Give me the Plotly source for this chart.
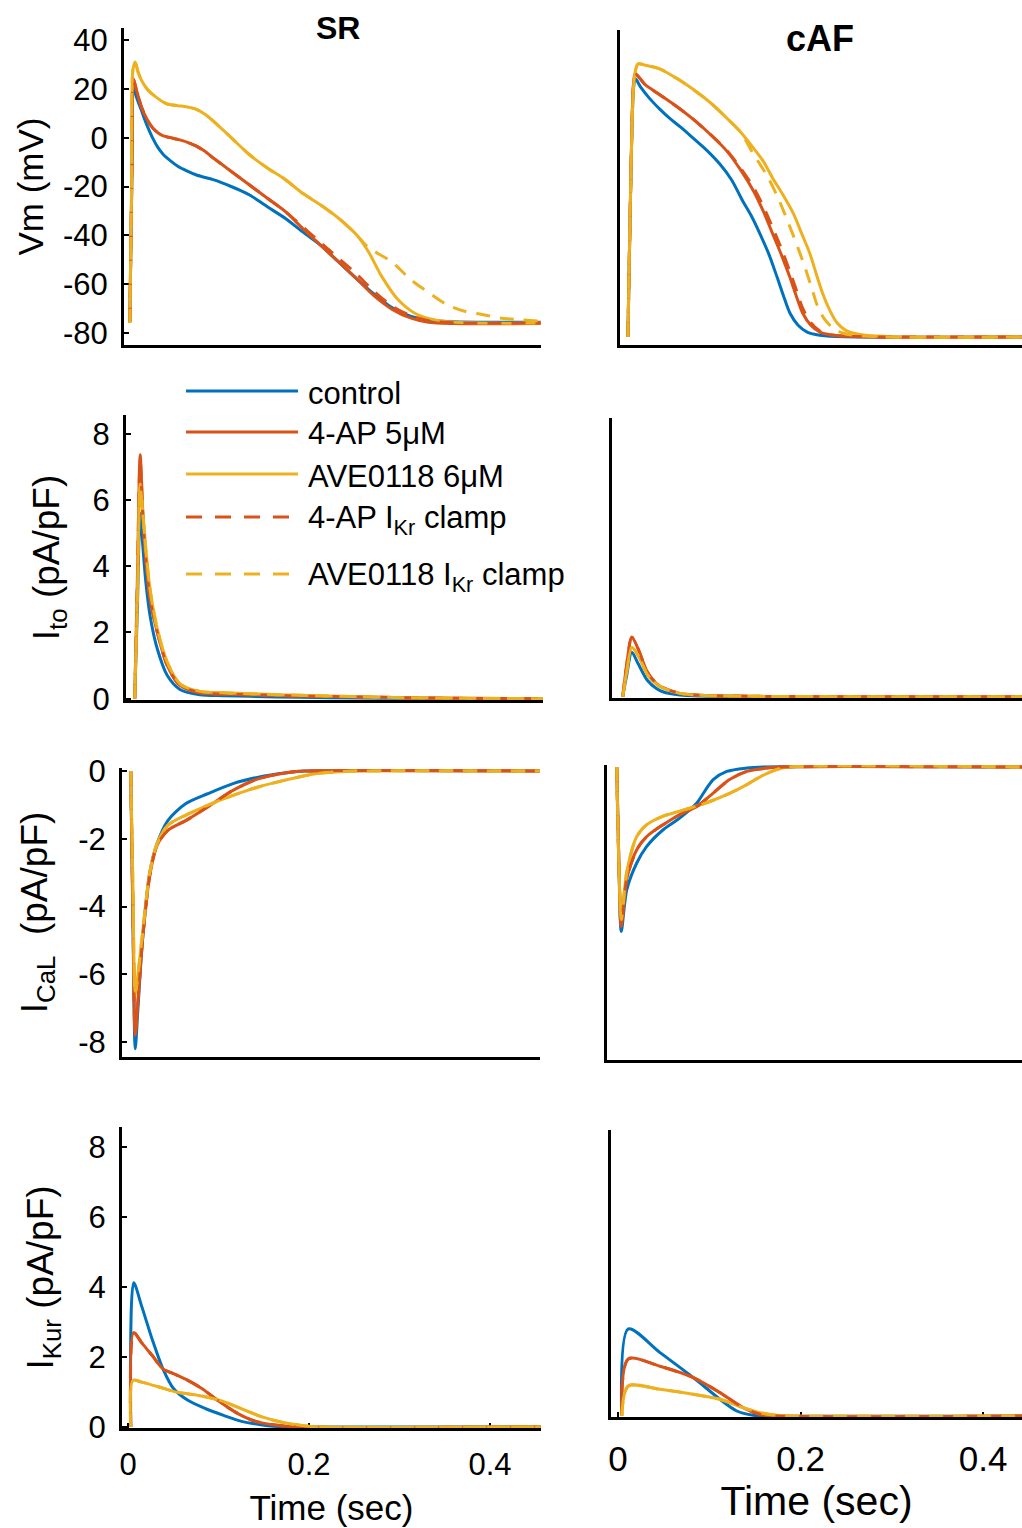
import plotly.graph_objects as go

# ======================= DATA =======================
# ---- SR : Vm (mV) ----
sr_vm_t_ctrl = [0.002, 0.0045, 0.006, 0.009, 0.015, 0.021, 0.027, 0.033, 0.039, 0.047, 0.055, 0.065, 0.075,
                0.085, 0.094, 0.104, 0.114, 0.124, 0.134, 0.154, 0.174, 0.193, 0.213, 0.233, 0.253, 0.272,
                0.292, 0.312, 0.332, 0.36, 0.40, 0.456]
sr_vm_v_ctrl = [-75.5, -10, 22, 17, 11, 5, 0, -4, -6.9, -9.5, -11.7, -13.6, -15.2,
                -16.3, -17.2, -18.5, -20, -21.6, -23.4, -28.3, -33.1, -38.6, -44.1, -51, -57.9, -64.1,
                -69.7, -73.1, -74.8, -75.4, -75.6, -75.6]
sr_vm_t_4ap = [0.002, 0.0045, 0.006, 0.009, 0.015, 0.021, 0.027, 0.033, 0.039, 0.047, 0.055, 0.065, 0.075,
               0.085, 0.094, 0.104, 0.114, 0.134, 0.154, 0.174, 0.193, 0.213, 0.233, 0.253, 0.272, 0.292,
               0.312, 0.332, 0.36, 0.456]
sr_vm_v_4ap = [-75.5, -10, 24, 20, 12.4, 7.5, 4.1, 2, 0.7, 0, -0.7, -1.8, -3.4,
               -5.6, -8.3, -11, -13.8, -19.3, -24.8, -30.3, -37.2, -44.1, -51, -57.9, -64.8, -70.3,
               -73.8, -75.6, -76.1, -76.1]
sr_vm_t_ave = [0.002, 0.004, 0.0055, 0.008, 0.011, 0.015, 0.022, 0.031, 0.043, 0.055, 0.065, 0.075, 0.085,
               0.094, 0.104, 0.114, 0.134, 0.154, 0.174, 0.193, 0.213, 0.233, 0.253, 0.266, 0.28, 0.298,
               0.316, 0.334, 0.362, 0.456]
sr_vm_v_ave = [-75.9, -20, 28, 31, 27, 23.4, 19.5, 16.6, 13.8, 13.1, 12.6, 11.7, 9.6,
               6.9, 3.5, 0, -6.9, -12.4, -17.2, -22.8, -27.6, -33.1, -40, -46.9, -56.6, -66.2,
               -71.7, -74.2, -75.6, -75.9]
sr_vm_t_4ap_clamp = [0.002, 0.0045, 0.006, 0.009, 0.015, 0.021, 0.027, 0.033, 0.039, 0.047, 0.055, 0.065,
                     0.075, 0.085, 0.094, 0.104, 0.114, 0.134, 0.154, 0.174, 0.193, 0.213, 0.233, 0.253,
                     0.272, 0.292, 0.312, 0.332, 0.36, 0.456]
sr_vm_v_4ap_clamp = [-75.5, -10, 24, 20, 12.4, 7.5, 4.1, 2, 0.7, 0, -0.7, -1.8,
                     -3.4, -5.6, -8.3, -11, -13.8, -19.3, -24.8, -30.3, -36.5, -43, -49.5, -56,
                     -63, -69, -72.8, -75, -75.8, -75.9]
sr_vm_t_ave_clamp = [0.002, 0.004, 0.0055, 0.008, 0.011, 0.015, 0.022, 0.031, 0.043, 0.055, 0.065, 0.075,
                     0.085, 0.094, 0.104, 0.114, 0.134, 0.154, 0.174, 0.193, 0.213, 0.233, 0.253, 0.265,
                     0.292, 0.312, 0.332, 0.352, 0.371, 0.391, 0.411, 0.431, 0.456]
sr_vm_v_ave_clamp = [-75.9, -20, 28, 31, 27, 23.4, 19.5, 16.6, 13.8, 13.1, 12.6, 11.7,
                     9.6, 6.9, 3.5, 0, -6.9, -12.4, -17.2, -22.8, -27.6, -33.1, -40, -44.8,
                     -51, -58, -63.4, -68.3, -71, -72.4, -73.8, -74.5, -75.2]

# ---- cAF : Vm (mV) ----
caf_vm_t_ctrl = [0.001, 0.004, 0.007, 0.009, 0.015, 0.025, 0.036, 0.047, 0.06, 0.073, 0.088, 0.102, 0.115,
                 0.127, 0.137, 0.146, 0.156, 0.165, 0.172, 0.179, 0.188, 0.198, 0.21, 0.22, 0.26, 0.45]
caf_vm_v_ctrl = [-80.8, -20, 20, 25, 21.5, 16.8, 12.5, 8.7, 4.8, 0.5, -4.5, -10, -16.5,
                 -25, -31.5, -38.5, -47, -56.4, -64, -71, -76, -78.8, -80, -80.4, -80.8, -80.8]
caf_vm_t_4ap = [0.001, 0.004, 0.007, 0.009, 0.02, 0.036, 0.055, 0.073, 0.092, 0.11, 0.125, 0.139, 0.15,
                0.16, 0.17, 0.179, 0.186, 0.193, 0.202, 0.212, 0.225, 0.237, 0.27, 0.45]
caf_vm_v_4ap = [-80.8, -20, 22, 27, 22.5, 18.4, 13.5, 8.3, 2, -4.8, -12.5, -21, -29.5,
                -38.5, -47.5, -56.4, -64, -71, -76, -78.8, -80, -80.4, -80.8, -80.8]
caf_vm_t_ave = [0.001, 0.004, 0.008, 0.012, 0.02, 0.036, 0.055, 0.073, 0.092, 0.11, 0.125, 0.139, 0.15,
                0.16, 0.172, 0.183, 0.192, 0.201, 0.208, 0.215, 0.223, 0.231, 0.24, 0.248, 0.26, 0.275,
                0.3, 0.45]
caf_vm_v_ave = [-80.8, -20, 25, 31, 30.5, 29, 25, 20.5, 15, 8.7, 3, -3.5, -9,
                -15.7, -23, -30.4, -38.5, -46.7, -55, -63, -70, -75.1, -78, -79.2, -80, -80.4,
                -80.8, -80.8]
caf_vm_t_4ap_clamp = [0.001, 0.004, 0.007, 0.009, 0.02, 0.036, 0.055, 0.073, 0.092, 0.11, 0.125, 0.139,
                      0.15, 0.16, 0.17, 0.179, 0.186, 0.193, 0.202, 0.212, 0.225, 0.24, 0.27, 0.45]
caf_vm_v_4ap_clamp = [-80.8, -20, 22, 27, 22.5, 18.4, 13.5, 8.3, 2, -4.5, -11.8, -19.5,
                      -27.5, -36, -45, -54, -61.5, -69, -75, -78.4, -80, -80.5, -80.8, -80.8]
caf_vm_t_ave_clamp = [0.001, 0.004, 0.008, 0.012, 0.02, 0.036, 0.055, 0.073, 0.092, 0.11, 0.125, 0.139,
                      0.146, 0.155, 0.165, 0.174, 0.183, 0.191, 0.198, 0.204, 0.209, 0.217, 0.226, 0.237,
                      0.25, 0.28, 0.45]
caf_vm_v_ave_clamp = [-80.8, -20, 25, 31, 30.5, 29, 25, 20.5, 15, 8.7, 3, -6,
                      -10, -15.5, -23, -31, -39.5, -47.5, -55, -62, -67.8, -73.5, -77, -79.2,
                      -80.2, -80.8, -80.8]

# ---- SR : I_to (pA/pF) ----
sr_ito_t = [0.003, 0.006, 0.009, 0.012, 0.015, 0.02, 0.028, 0.039, 0.053, 0.075, 0.1, 0.13, 0.186,
            0.25, 0.3, 0.36, 0.456]
sr_ito_ctrl = [0, 2.8, 5.6, 4.6, 3.6, 2.5, 1.5, 0.7, 0.28, 0.12, 0.09, 0.07, 0.04, 0.02, 0.01, 0, 0]
sr_ito_4ap = [0, 3.7, 7.37, 5.6, 4.3, 3.0, 2.0, 1.0, 0.4, 0.18, 0.14, 0.12, 0.08, 0.05, 0.03, 0.01, 0]
sr_ito_ave = [0, 3.2, 6.5, 5.6, 4.6, 3.3, 2.1, 1.1, 0.45, 0.22, 0.18, 0.15, 0.1, 0.06, 0.03, 0.01, 0]
sr_ito_4ap_clamp = [0, 3.6, 7.2, 5.5, 4.3, 3.0, 2.0, 1.0, 0.4, 0.18, 0.14, 0.12, 0.08, 0.05, 0.03, 0.01, 0]
sr_ito_ave_clamp = [0, 3.1, 6.4, 5.6, 4.6, 3.3, 2.1, 1.1, 0.45, 0.22, 0.18, 0.15, 0.1, 0.06, 0.03, 0.01, 0]

# ---- cAF : I_to (pA/pF) ----
caf_ito_t = [0.003, 0.007, 0.013, 0.02, 0.03, 0.04, 0.047, 0.066, 0.09, 0.15, 0.25, 0.45]
caf_ito_ctrl = [0, 0.6, 1.35, 1.0, 0.5, 0.25, 0.15, 0.05, 0.02, 0, 0, 0]
caf_ito_4ap = [0, 0.9, 1.82, 1.45, 0.75, 0.4, 0.28, 0.1, 0.04, 0.01, 0, 0]
caf_ito_ave = [0, 0.7, 1.5, 1.25, 0.68, 0.38, 0.27, 0.1, 0.04, 0.01, 0, 0]
caf_ito_4ap_clamp = [0, 0.9, 1.8, 1.45, 0.75, 0.4, 0.28, 0.1, 0.04, 0.01, 0, 0]
caf_ito_ave_clamp = [0, 0.7, 1.5, 1.25, 0.68, 0.38, 0.27, 0.1, 0.04, 0.01, 0, 0]

# ---- SR : I_CaL (pA/pF) ----
sr_ical_t_ctrl = [0.003, 0.0055, 0.008, 0.011, 0.016, 0.024, 0.032, 0.044, 0.064, 0.088, 0.116, 0.144,
                  0.175, 0.195, 0.456]
sr_ical_ctrl = [0, -4.5, -8.2, -7.0, -5.0, -3.0, -2.15, -1.46, -0.96, -0.67, -0.37, -0.18, -0.05, 0, 0]
sr_ical_t_4ap = [0.003, 0.0055, 0.008, 0.011, 0.016, 0.024, 0.032, 0.044, 0.064, 0.088, 0.116, 0.144,
                 0.175, 0.195, 0.456]
sr_ical_4ap = [0, -4.3, -7.8, -6.8, -5.0, -3.1, -2.2, -1.75, -1.46, -1.06, -0.57, -0.23, -0.05, 0, 0]
sr_ical_t_ave = [0.003, 0.0055, 0.008, 0.011, 0.016, 0.024, 0.032, 0.044, 0.064, 0.088, 0.116, 0.144,
                 0.175, 0.207, 0.235, 0.255, 0.456]
sr_ical_ave = [0, -3.5, -6.6, -6.0, -4.8, -3.0, -2.15, -1.6, -1.3, -1.01, -0.72, -0.47, -0.26, -0.08,
               -0.02, 0, 0]
sr_ical_4ap_clamp = [0, -4.2, -7.7, -6.8, -5.0, -3.1, -2.2, -1.75, -1.46, -1.06, -0.57, -0.23, -0.05, 0, 0]
sr_ical_ave_clamp = [0, -3.5, -6.5, -6.0, -4.8, -3.0, -2.15, -1.6, -1.3, -1.01, -0.72, -0.47, -0.26, -0.08,
                     -0.02, 0, 0]

# ---- cAF : I_CaL (pA/pF) ----
caf_ical_t_ctrl = [0.003, 0.0055, 0.008, 0.014, 0.025, 0.036, 0.054, 0.0725, 0.091, 0.1, 0.109, 0.124,
                   0.146, 0.164, 0.45]
caf_ical_ctrl = [0, -3.0, -4.85, -3.62, -2.83, -2.34, -1.85, -1.5, -1.06, -0.7, -0.37, -0.13, -0.03, 0, 0]
caf_ical_t_4ap = [0.003, 0.0055, 0.008, 0.014, 0.025, 0.036, 0.054, 0.0725, 0.091, 0.109, 0.127, 0.146,
                  0.168, 0.182, 0.45]
caf_ical_4ap = [0, -3.0, -4.7, -3.3, -2.44, -2.05, -1.7, -1.4, -1.16, -0.77, -0.37, -0.13, -0.03, 0, 0]
caf_ical_t_ave = [0.003, 0.0055, 0.008, 0.014, 0.025, 0.036, 0.054, 0.0725, 0.091, 0.109, 0.127, 0.146,
                  0.162, 0.177, 0.192, 0.45]
caf_ical_ave = [0, -3.0, -4.5, -3.1, -2.05, -1.7, -1.45, -1.3, -1.15, -0.98, -0.78, -0.52, -0.27, -0.09, 0, 0]
caf_ical_4ap_clamp = [0, -3.0, -4.7, -3.3, -2.44, -2.05, -1.7, -1.4, -1.16, -0.77, -0.37, -0.13, -0.03, 0, 0]
caf_ical_ave_clamp = [0, -3.0, -4.5, -3.1, -2.05, -1.7, -1.45, -1.3, -1.15, -0.98, -0.78, -0.52, -0.27, -0.09,
                      0, 0]

# ---- SR : I_Kur (pA/pF) ----
sr_ikur_t_ctrl = [0.003, 0.0063, 0.015, 0.0268, 0.0386, 0.0505, 0.0662, 0.0859, 0.1056, 0.1253, 0.145,
                  0.1648, 0.1726, 0.456]
sr_ikur_ctrl = [0, 4.12, 3.46, 2.5, 1.66, 1.09, 0.76, 0.52, 0.33, 0.16, 0.07, 0.01, 0, 0]
sr_ikur_t_4ap = [0.003, 0.0063, 0.015, 0.0268, 0.0386, 0.0505, 0.0662, 0.082, 0.1017, 0.1214, 0.1411,
                 0.1648, 0.1924, 0.456]
sr_ikur_4ap = [0, 2.7, 2.41, 2.04, 1.66, 1.52, 1.33, 1.09, 0.71, 0.38, 0.16, 0.05, 0, 0]
sr_ikur_t_ave = [0.003, 0.0055, 0.015, 0.0347, 0.0544, 0.078, 0.1017, 0.1253, 0.149, 0.1726, 0.1963,
                 0.212, 0.456]
sr_ikur_ave = [0, 1.33, 1.28, 1.14, 0.99, 0.9, 0.76, 0.52, 0.28, 0.12, 0.03, 0, 0]
sr_ikur_4ap_clamp = [0, 2.7, 2.41, 2.04, 1.66, 1.52, 1.33, 1.09, 0.71, 0.38, 0.16, 0.05, 0, 0]
sr_ikur_ave_clamp = [0, 1.33, 1.28, 1.14, 0.99, 0.9, 0.76, 0.52, 0.28, 0.12, 0.03, 0, 0]

# ---- cAF : I_Kur (pA/pF) ----
caf_ikur_t_ctrl = [0.004, 0.0113, 0.046, 0.0825, 0.1117, 0.13, 0.148, 0.163, 0.45]
caf_ikur_ctrl = [0, 2.61, 1.9, 1.15, 0.5, 0.15, 0.02, 0, 0]
caf_ikur_t_4ap = [0.004, 0.0113, 0.046, 0.0825, 0.1117, 0.137, 0.1555, 0.174, 0.45]
caf_ikur_4ap = [0, 1.71, 1.49, 1.15, 0.70, 0.25, 0.05, 0, 0]
caf_ikur_t_ave = [0.004, 0.0113, 0.046, 0.0825, 0.1117, 0.137, 0.1555, 0.174, 0.192, 0.45]
caf_ikur_ave = [0, 0.9, 0.8, 0.65, 0.5, 0.25, 0.1, 0.02, 0, 0]
caf_ikur_4ap_clamp = [0, 1.71, 1.49, 1.15, 0.70, 0.25, 0.05, 0, 0]
caf_ikur_ave_clamp = [0, 0.9, 0.8, 0.65, 0.5, 0.25, 0.1, 0.02, 0, 0]

series_names = ["control", "4-AP 5\u03bcM", "AVE0118 6\u03bcM",
                "4-AP I<sub>Kr</sub> clamp", "AVE0118 I<sub>Kr</sub> clamp"]
column_titles = ["SR", "cAF"]
row_labels = ["Vm (mV)", "I<sub>to</sub> (pA/pF)", "I<sub>CaL</sub>  (pA/pF)", "I<sub>Kur</sub> (pA/pF)"]
x_title = "Time (sec)"
x_tickvals = [0, 0.2, 0.4]
x_ticktext = ["0", "0.2", "0.4"]
vm_tickvals = [-80, -60, -40, -20, 0, 20, 40]
vm_ticktext = ["-80", "-60", "-40", "-20", "0", "20", "40"]
pos_tickvals = [0, 2, 4, 6, 8]
pos_ticktext = ["0", "2", "4", "6", "8"]
neg_tickvals = [-8, -6, -4, -2, 0]
neg_ticktext = ["-8", "-6", "-4", "-2", "0"]

# ======================= STYLE / LAYOUT =======================
W, H = 1022, 1528
BLUE, RED, YEL = "#0072BD", "#D95319", "#EDB120"
FONT = "Liberation Sans, Arial, Helvetica, sans-serif"
colors = [BLUE, RED, YEL, RED, YEL]
dashes = ["solid", "solid", "solid", "14px,10px", "14px,10px"]


def xd(a, b):
    return [a / W, b / W]


def yd(top, bot):
    return [1 - bot / H, 1 - top / H]


# panel: series, x box px, y box px, px of t=0, px per second, y range, ticks, is SR, is bottom, row,
#        y-title standoff, y-title size
panels = [
    ([(sr_vm_t_ctrl, sr_vm_v_ctrl), (sr_vm_t_4ap, sr_vm_v_4ap), (sr_vm_t_ave, sr_vm_v_ave),
      (sr_vm_t_4ap_clamp, sr_vm_v_4ap_clamp), (sr_vm_t_ave_clamp, sr_vm_v_ave_clamp)],
     (124, 541), (28, 345), 128, 905, [-84.9, 44.9], (vm_tickvals, vm_ticktext), True, False, 0, 9, 35),
    ([(caf_vm_t_ctrl, caf_vm_v_ctrl), (caf_vm_t_4ap, caf_vm_v_4ap), (caf_vm_t_ave, caf_vm_v_ave),
      (caf_vm_t_4ap_clamp, caf_vm_v_4ap_clamp), (caf_vm_t_ave_clamp, caf_vm_v_ave_clamp)],
     (620, 1022), (30, 345), 627, 910, [-84.1, 44.9], (vm_tickvals, vm_ticktext), False, False, 0, 0, 0),
    ([(sr_ito_t, sr_ito_ctrl), (sr_ito_t, sr_ito_4ap), (sr_ito_t, sr_ito_ave),
      (sr_ito_t, sr_ito_4ap_clamp), (sr_ito_t, sr_ito_ave_clamp)],
     (126, 543), (415, 700), 132, 905, [-0.04, 8.57], (pos_tickvals, pos_ticktext), True, False, 1, 22, 37),
    ([(caf_ito_t, caf_ito_ctrl), (caf_ito_t, caf_ito_4ap), (caf_ito_t, caf_ito_ave),
      (caf_ito_t, caf_ito_4ap_clamp), (caf_ito_t, caf_ito_ave_clamp)],
     (612, 1022), (418, 698), 620, 910, [-0.04, 8.48], (pos_tickvals, pos_ticktext), False, False, 1, 0, 0),
    ([(sr_ical_t_ctrl, sr_ical_ctrl), (sr_ical_t_4ap, sr_ical_4ap), (sr_ical_t_ave, sr_ical_ave),
      (sr_ical_t_4ap, sr_ical_4ap_clamp), (sr_ical_t_ave, sr_ical_ave_clamp)],
     (122, 540), (768, 1057), 128, 905, [-8.44, 0.09], (neg_tickvals, neg_ticktext), True, False, 2, 20, 37),
    ([(caf_ical_t_ctrl, caf_ical_ctrl), (caf_ical_t_4ap, caf_ical_4ap), (caf_ical_t_ave, caf_ical_ave),
      (caf_ical_t_4ap, caf_ical_4ap_clamp), (caf_ical_t_ave, caf_ical_ave_clamp)],
     (607, 1022), (765, 1060), 614, 910, [-8.64, 0.06], (neg_tickvals, neg_ticktext), False, False, 2, 0, 0),
    ([(sr_ikur_t_ctrl, sr_ikur_ctrl), (sr_ikur_t_4ap, sr_ikur_4ap), (sr_ikur_t_ave, sr_ikur_ave),
      (sr_ikur_t_4ap, sr_ikur_4ap_clamp), (sr_ikur_t_ave, sr_ikur_ave_clamp)],
     (122, 541), (1127, 1428), 128, 905, [-0.03, 8.57], (pos_tickvals, pos_ticktext), True, True, 3, 24, 37),
    ([(caf_ikur_t_ctrl, caf_ikur_ctrl), (caf_ikur_t_4ap, caf_ikur_4ap), (caf_ikur_t_ave, caf_ikur_ave),
      (caf_ikur_t_4ap, caf_ikur_4ap_clamp), (caf_ikur_t_ave, caf_ikur_ave_clamp)],
     (611, 1022), (1130, 1417), 618, 913, [-0.03, 8.57], (pos_tickvals, pos_ticktext), False, True, 3, 0, 0),
]

fig = go.Figure()
layout = {}
for i, (series, xb, yb, p0, s, yr, yt, is_sr, is_bottom, row, ystand, ysize) in enumerate(panels):
    n = "" if i == 0 else str(i + 1)
    xa, ya = "x" + n, "y" + n
    for k, (tt, vv) in enumerate(series):
        fig.add_trace(go.Scatter(
            x=tt, y=vv, mode="lines", name=series_names[k], showlegend=False,
            line=dict(color=colors[k], width=3.0, dash=dashes[k], shape="spline", smoothing=0.8),
            xaxis=xa, yaxis=ya, hoverinfo="skip"))
    xrange = [(xb[0] - p0) / s, (xb[1] - p0) / s]
    xax = dict(domain=xd(*xb), range=xrange, anchor=ya, showgrid=False, zeroline=False,
               showline=True, linecolor="black", linewidth=3, layer="below traces",
               fixedrange=True, automargin=False)
    if is_bottom:
        xax.update(tickmode="array", tickvals=x_tickvals, ticktext=x_ticktext, ticks="inside",
                   ticklen=5, tickwidth=2, tickcolor="black", showticklabels=True,
                   ticklabelstandoff=7 if is_sr else 9,
                   tickfont=dict(family=FONT, size=31 if is_sr else 35, color="black"),
                   title=dict(text=x_title, standoff=15 if is_sr else 4,
                              font=dict(family=FONT, size=35 if is_sr else 41, color="black")))
    else:
        xax.update(ticks="", showticklabels=False)
    yax = dict(domain=yd(*yb), range=yr, anchor=xa, showgrid=False, zeroline=False,
               showline=True, linecolor="black", linewidth=3, layer="below traces",
               fixedrange=True, automargin=False)
    if is_sr:
        yax.update(tickmode="array", tickvals=yt[0], ticktext=yt[1], ticks="inside", ticklen=5,
                   tickwidth=2, tickcolor="black", showticklabels=True, ticklabelstandoff=7,
                   tickfont=dict(family=FONT, size=31, color="black"),
                   title=dict(text=row_labels[row], standoff=ystand,
                              font=dict(family=FONT, size=ysize, color="black")))
    else:
        yax.update(ticks="", showticklabels=False)
    layout["xaxis" + n] = xax
    layout["yaxis" + n] = yax

fig.update_layout(**layout)

# column titles
annotations = [
    dict(text="<b>%s</b>" % column_titles[0], x=338 / W, y=1 - 28 / H, xref="paper", yref="paper",
         showarrow=False, xanchor="center", yanchor="middle",
         font=dict(family=FONT, size=32, color="black")),
    dict(text="<b>%s</b>" % column_titles[1], x=820 / W, y=1 - 38 / H, xref="paper", yref="paper",
         showarrow=False, xanchor="center", yanchor="middle",
         font=dict(family=FONT, size=36, color="black")),
]

# legend (drawn manually to reproduce the long MATLAB legend lines)
leg_line_y = [391, 432, 474, 517, 574]
leg_text_y = [393, 433, 476, 520, 577]
shapes = []
for k in range(5):
    shapes.append(dict(type="line", xref="paper", yref="paper",
                       x0=186 / W, x1=298 / W, y0=1 - leg_line_y[k] / H, y1=1 - leg_line_y[k] / H,
                       line=dict(color=colors[k], width=3.2, dash="16px,13px" if k >= 3 else "solid")))
    annotations.append(dict(text=series_names[k], x=306 / W, y=1 - leg_text_y[k] / H, xref="paper",
                            yref="paper", showarrow=False, xanchor="left", yanchor="middle",
                            font=dict(family=FONT, size=31, color="black")))

fig.update_layout(
    width=W, height=H, margin=dict(l=0, r=0, t=0, b=0),
    paper_bgcolor="white", plot_bgcolor="white",
    showlegend=False, annotations=annotations, shapes=shapes,
    font=dict(family=FONT, color="black"),
)

fig.write_html("out.html", include_plotlyjs=True, full_html=True,
               config={"displayModeBar": False, "staticPlot": True})
